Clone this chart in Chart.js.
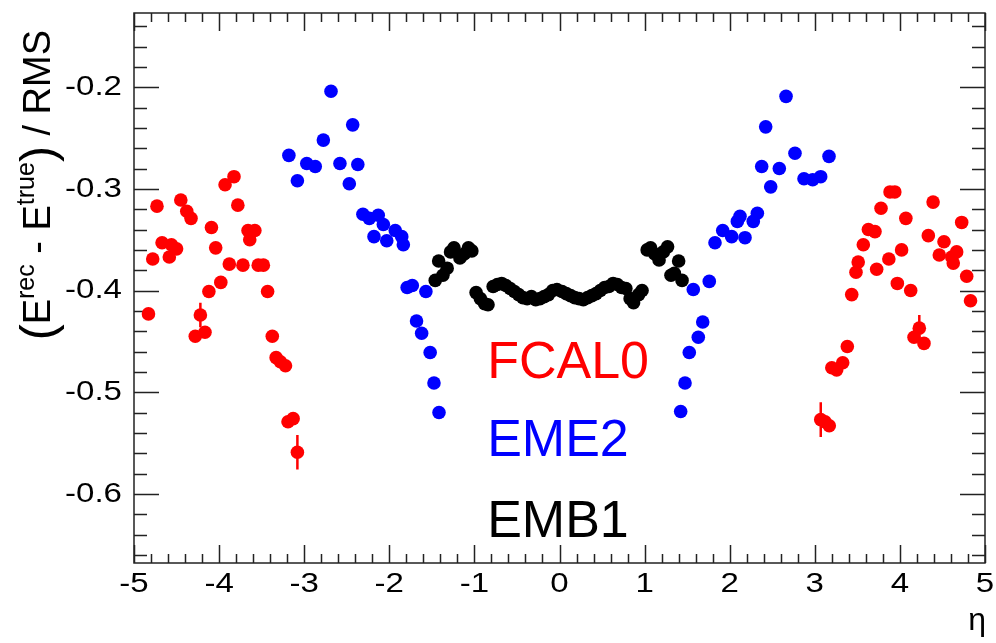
<!DOCTYPE html>
<html>
<head>
<meta charset="utf-8">
<script src="https://cdn.jsdelivr.net/npm/chart.js@4.4.1/dist/chart.umd.min.js"></script>
<style>
  html, body { margin: 0; padding: 0; background: #fff; }
</style>
</head>
<body>
<canvas id="myChart" width="996" height="643"></canvas>
<script>
const ctx = document.getElementById('myChart')

// FCAL0 (red)
const fcalEta = [-4.83, -4.78, -4.73, -4.67, -4.585, -4.56, -4.50, -4.45, -4.38, -4.33, -4.28, -4.22, -4.166, -4.12, -4.09, -4.04, -3.98, -3.93, -3.88, -3.825, -3.78, -3.72, -3.66, -3.64, -3.58, -3.54, -3.48, -3.43, -3.375, -3.33, -3.28, -3.22, -3.19, -3.13, -3.08,
  3.07, 3.12, 3.17, 3.2, 3.257, 3.328, 3.382, 3.434, 3.484, 3.51, 3.57, 3.63, 3.707, 3.727, 3.778, 3.884, 3.87, 3.94, 3.97, 4.02, 4.07, 4.127, 4.166, 4.228, 4.283, 4.334, 4.39, 4.463, 4.518, 4.61, 4.627, 4.667, 4.726, 4.785, 4.83]
const fcalVal = [-0.423, -0.369, -0.317, -0.353, -0.367, -0.355, -0.359, -0.311, -0.322, -0.329, -0.445, -0.424, -0.441, -0.401, -0.338, -0.358, -0.392, -0.296, -0.374, -0.288, -0.316, -0.375, -0.341, -0.350, -0.341, -0.375, -0.375, -0.401, -0.445, -0.466, -0.470, -0.474, -0.529, -0.526, -0.559,
  -0.527, -0.529, -0.533, -0.476, -0.478, -0.471, -0.455, -0.404, -0.382, -0.372, -0.355, -0.340, -0.342, -0.379, -0.319, -0.303, -0.369, -0.303, -0.393, -0.360, -0.329, -0.400, -0.446, -0.437, -0.452, -0.346, -0.313, -0.365, -0.352, -0.367, -0.373, -0.362, -0.333, -0.386, -0.410]
const fcalErr = [0.004, 0.004, 0.004, 0.004, 0.004, 0.004, 0.004, 0.004, 0.004, 0.004, 0.005, 0.012, 0.005, 0.004, 0.004, 0.004, 0.004, 0.004, 0.004, 0.004, 0.004, 0.004, 0.004, 0.004, 0.004, 0.004, 0.004, 0.004, 0.005, 0.005, 0.005, 0.005, 0.006, 0.006, 0.017,
  0.017, 0.006, 0.006, 0.005, 0.005, 0.005, 0.005, 0.004, 0.004, 0.004, 0.004, 0.004, 0.004, 0.004, 0.004, 0.004, 0.004, 0.004, 0.004, 0.004, 0.004, 0.004, 0.005, 0.013, 0.005, 0.004, 0.004, 0.004, 0.004, 0.004, 0.004, 0.004, 0.004, 0.004, 0.004]

// EME2 (blue)
const emeEta = [-3.18, -3.08, -2.97, -2.87, -2.775, -2.685, -2.58, -2.47, -2.43, -2.37, -2.31, -2.235, -2.18, -2.13, -2.07, -2.03, -1.93, -1.854, -1.835, -1.79, -1.73, -1.68, -1.62, -1.57, -1.52, -1.475, -1.416,
  1.424, 1.475, 1.525, 1.572, 1.631, 1.683, 1.76, 1.827, 1.918, 2.023, 2.09, 2.121, 2.18, 2.277, 2.325, 2.376, 2.423, 2.482, 2.583, 2.662, 2.767, 2.873, 2.975, 3.069, 3.167]
const emeVal = [-0.267, -0.292, -0.275, -0.278, -0.252, -0.204, -0.275, -0.295, -0.237, -0.276, -0.325, -0.329, -0.347, -0.326, -0.335, -0.351, -0.341, -0.347, -0.355, -0.397, -0.395, -0.430, -0.442, -0.401, -0.461, -0.491, -0.520,
  -0.519, -0.491, -0.461, -0.399, -0.446, -0.431, -0.391, -0.353, -0.341, -0.347, -0.332, -0.327, -0.348, -0.332, -0.324, -0.278, -0.239, -0.298, -0.280, -0.209, -0.265, -0.290, -0.291, -0.288, -0.268]

// EMB1 (black)
const embEta = [-1.46, -1.42, -1.37, -1.32, -1.28, -1.24, -1.17, -1.12, -1.07, -1.03,
  -0.98, -0.93, -0.88, -0.84, -0.78, -0.73, -0.68, -0.63, -0.58, -0.53, -0.48, -0.43, -0.38, -0.33, -0.28, -0.23, -0.18, -0.13, -0.08, -0.03,
  0.03, 0.08, 0.13, 0.18, 0.23, 0.28, 0.33, 0.38, 0.43, 0.48, 0.53, 0.58, 0.63, 0.68, 0.73, 0.78, 0.83, 0.87, 0.93, 0.97,
  1.03, 1.07, 1.12, 1.17, 1.22, 1.27, 1.31, 1.35, 1.40, 1.44]
const embVal = [-0.390, -0.371, -0.385, -0.378, -0.362, -0.358, -0.368, -0.364, -0.358, -0.361,
  -0.402, -0.408, -0.413, -0.414, -0.396, -0.394, -0.393, -0.395, -0.398, -0.401, -0.404, -0.407, -0.408, -0.406, -0.409, -0.408, -0.406, -0.404, -0.400, -0.399,
  -0.401, -0.403, -0.405, -0.407, -0.408, -0.409, -0.407, -0.405, -0.403, -0.400, -0.397, -0.396, -0.393, -0.394, -0.397, -0.398, -0.408, -0.412, -0.404, -0.400,
  -0.360, -0.358, -0.364, -0.370, -0.362, -0.357, -0.385, -0.383, -0.371, -0.390]

const xTicks = [-5, -4, -3, -2, -1, 0, 1, 2, 3, 4, 5]
const yTicks = [-0.6, -0.5, -0.4, -0.3, -0.2]
const yMin = -0.668
const yMax = -0.127

const toPoints = (xs, ys, errs) => xs.map((x, i) => ({x: x, y: ys[i], err: errs ? errs[i] : 0.004}))

const FONT = "'Liberation Sans', Arial, sans-serif"

// ROOT-like look: frame, inward ticks on all sides, stretched tick labels, error bars, titles
const rootStyle = {
    id: 'rootStyle',
    beforeDatasetsDraw(chart) {
        const {ctx, chartArea: a, scales: {x, y}} = chart
        ctx.save()
        ctx.strokeStyle = '#222'
        ctx.lineWidth = 1.5
        ctx.strokeRect(a.left, a.top, a.right - a.left, a.bottom - a.top)
        ctx.beginPath()
        for (let k = -25; k <= 25; k++) {
            const px = Math.round(x.getPixelForValue(k * 0.2)) + 0.5
            const len = k % 5 === 0 ? 18 : 9
            ctx.moveTo(px, a.bottom); ctx.lineTo(px, a.bottom - len)
            ctx.moveTo(px, a.top); ctx.lineTo(px, a.top + len)
        }
        for (let k = -33; k <= -7; k++) {
            const py = Math.round(y.getPixelForValue(k * 0.02)) + 0.5
            const len = k % 5 === 0 ? 25 : 13
            ctx.moveTo(a.left, py); ctx.lineTo(a.left + len, py)
            ctx.moveTo(a.right, py); ctx.lineTo(a.right - len, py)
        }
        ctx.stroke()

        // tick labels, slightly wide like the original
        ctx.fillStyle = '#000'
        ctx.font = `28px ${FONT}`
        ctx.textBaseline = 'middle'
        const sx = 1.18
        xTicks.forEach(v => {
            ctx.save()
            ctx.translate(x.getPixelForValue(v), a.bottom + 21)
            ctx.scale(sx, 1)
            ctx.textAlign = 'center'
            ctx.fillText(String(v), 0, 0)
            ctx.restore()
        })
        yTicks.forEach(v => {
            ctx.save()
            ctx.translate(a.left - 12, y.getPixelForValue(v))
            ctx.scale(sx, 1)
            ctx.textAlign = 'right'
            ctx.fillText(v.toFixed(1), 0, 0)
            ctx.restore()
        })
        ctx.restore()
    },
    afterDatasetsDraw(chart) {
        const {ctx, scales: {x, y}} = chart
        ctx.save()
        ctx.lineWidth = 2.5
        chart.data.datasets.forEach(ds => {
            ctx.strokeStyle = ds.backgroundColor
            ctx.beginPath()
            ds.data.forEach(p => {
                const px = x.getPixelForValue(p.x)
                ctx.moveTo(px, y.getPixelForValue(p.y + p.err))
                ctx.lineTo(px, y.getPixelForValue(p.y - p.err))
            })
            ctx.stroke()
        })
        ctx.restore()
    },
    afterDraw(chart) {
        const {ctx, scales: {x, y}} = chart
        ctx.save()
        // series names
        ctx.font = `52px ${FONT}`
        ctx.textAlign = 'left'
        ctx.textBaseline = 'alphabetic'
        const names = [['FCAL0', '#ff0000', -0.486], ['EME2', '#0000ff', -0.563], ['EMB1', '#000000', -0.642]]
        names.forEach(([t, c, v]) => {
            ctx.fillStyle = c
            ctx.fillText(t, x.getPixelForValue(-0.85), y.getPixelForValue(v))
        })
        // x title
        ctx.fillStyle = '#000'
        ctx.font = `32px ${FONT}`
        ctx.textAlign = 'right'
        ctx.fillText('η', 986, 630)
        // y title, rotated, right-aligned to the top
        const parts = [
            ['(', 48, 4], ['E', 38, 0], ['rec', 25, -16], [' - ', 38, 0],
            ['E', 38, 0], ['true', 25, -16], [')', 48, 4], [' / RMS', 38, 0]
        ]
        let total = 0
        parts.forEach(([t, s]) => { ctx.font = `${s}px ${FONT}`; total += ctx.measureText(t).width })
        ctx.translate(50, 30 + total)
        ctx.rotate(-Math.PI / 2)
        ctx.textAlign = 'left'
        let pos = 0
        parts.forEach(([t, s, dy]) => {
            ctx.font = `${s}px ${FONT}`
            ctx.fillText(t, pos, dy)
            pos += ctx.measureText(t).width
        })
        ctx.restore()
    }
}

new Chart(ctx, {
    type: 'scatter',
    data: {
        datasets: [
            { label: 'FCAL0', data: toPoints(fcalEta, fcalVal, fcalErr), backgroundColor: '#ff0000', borderColor: '#ff0000' },
            { label: 'EME2', data: toPoints(emeEta, emeVal), backgroundColor: '#0000ff', borderColor: '#0000ff' },
            { label: 'EMB1', data: toPoints(embEta, embVal), backgroundColor: '#000000', borderColor: '#000000' }
        ]
    },
    options: {
        responsive: false,
        animation: false,
        layout: { padding: { top: 13, right: 11, left: 0, bottom: 0 } },
        elements: { point: { radius: 6.8, borderWidth: 0 } },
        plugins: { legend: { display: false }, tooltip: { enabled: false } },
        scales: {
            x: {
                type: 'linear', min: -5, max: 5,
                grid: { display: false, drawTicks: false },
                border: { display: false },
                afterBuildTicks: s => { s.ticks = xTicks.map(v => ({value: v})) },
                afterFit: s => { s.height = 80; s.paddingLeft = 0; s.paddingRight = 0 },
                ticks: { display: false }
            },
            y: {
                type: 'linear', min: yMin, max: yMax,
                grid: { display: false, drawTicks: false },
                border: { display: false },
                afterBuildTicks: s => { s.ticks = yTicks.map(v => ({value: v})) },
                afterFit: s => { s.width = 134; s.paddingTop = 0; s.paddingBottom = 0 },
                ticks: { display: false }
            }
        }
    },
    plugins: [rootStyle]
})
</script>
</body>
</html>
